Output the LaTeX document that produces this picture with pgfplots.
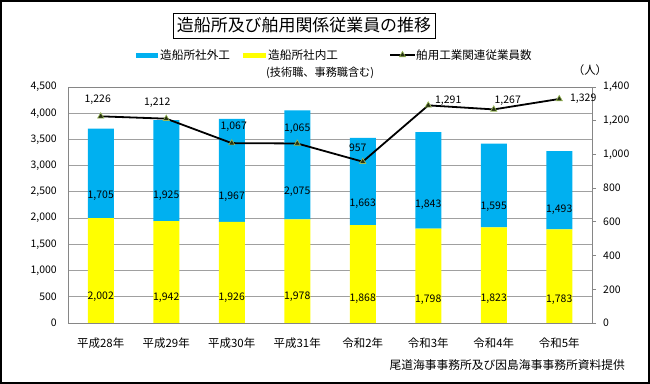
\documentclass[border=0pt]{standalone}
\usepackage{pgfplots}
\pgfplotsset{compat=1.18}
\usepackage{pgfplotstable}
\usepackage{fontspec}
\setmainfont{Noto Sans CJK JP}
\definecolor{barcyan}{RGB}{0,176,240}
\definecolor{baryel}{RGB}{255,255,0}
\definecolor{gridc}{RGB}{160,160,160}
\definecolor{axc}{RGB}{134,134,134}
\definecolor{mkgreen}{RGB}{155,187,89}
\definecolor{mkfill}{RGB}{40,50,20}

\pgfplotstableread{
x in out emp dx dy
0 2002 1705 1226 -3 17
1 1942 1925 1212 -9 16
2 1926 1967 1067 2 16
3 1978 2075 1065 0 15
4 1868 1663 957 -5 14
5 1798 1843 1291 20 5
6 1823 1595 1267 14 9
7 1783 1493 1329 24 0
}\datatable

\pgfplotsset{
  /pgf/number format/.cd, 1000 sep={,}, fixed, precision=0, assume math mode=true,
  /pgfplots/.cd,
}

\newcommand{\numfont}{\fontsize{10.5}{12}\selectfont}

\begin{document}
\begin{tikzpicture}
\useasboundingbox (0bp,0bp) rectangle (650bp,384bp);
\fill[white] (0bp,0bp) rectangle (650bp,384bp);

\begin{axis}[
  at={(68bp,61bp)}, anchor=south west,
  scale only axis, width=524bp, height=236bp,
  xmin=-0.5, xmax=7.5,
  ymin=0, ymax=4500,
  ytick={0,500,...,4500},
  xtick={0,...,7},
  xticklabels={平成28年,平成29年,平成30年,平成31年,令和2年,令和3年,令和4年,令和5年},
  ybar stacked, bar width=26bp,
  ymajorgrids, grid style={gridc, line width=0.8bp},
  axis line style={axc, line width=0.8bp},
  tick style={draw=none},
  major tick length=0pt,
  yticklabel style={font=\numfont, anchor=east, inner sep=0pt, xshift=-11bp},
  xticklabel style={font=\fontsize{11.5}{13}\selectfont, anchor=center, inner sep=0pt, yshift=-20bp},
]
\addplot[fill=baryel, draw=none, nodes near coords, point meta=explicit,
  visualization depends on={\thisrow{in} \as \segv},
  every node near coord/.style={font=\numfont, black, inner sep=0pt, anchor=center, yshift={-0.013111*\segv bp}}]
  table[x=x, y=in, meta=in] {\datatable};
\addplot[fill=barcyan, draw=none, nodes near coords, point meta=explicit,
  visualization depends on={\thisrow{out} \as \segw},
  every node near coord/.style={font=\numfont, black, inner sep=0pt, anchor=center, yshift={-0.013111*\segw bp}}]
  table[x=x, y=out, meta=out] {\datatable};
\end{axis}

\begin{axis}[
  at={(68bp,61bp)}, anchor=south west,
  scale only axis, width=524bp, height=236bp,
  xmin=-0.5, xmax=7.5, ymin=0, ymax=1400,
  axis y line*=right, axis x line=none,
  ytick={0,200,...,1400},
  tick align=outside, major tick length=4bp,
  tick style={axc, line width=0.8bp},
  axis line style={axc, line width=0.8bp},
  yticklabel style={font=\numfont, anchor=west, inner sep=0pt, xshift=7bp},
  clip=false,
]
\addplot[black, line width=1.8bp, mark=triangle*, mark size=3.6bp,
  mark options={fill=mkfill, draw=mkgreen, line width=0.6bp},
  nodes near coords, point meta=explicit,
  visualization depends on={\thisrow{dx} \as \ndx},
  visualization depends on={\thisrow{dy} \as \ndy},
  every node near coord/.style={font=\numfont, black, inner sep=0pt, anchor=center, xshift={\ndx bp}, yshift={\ndy bp}}]
  table[x=x, y=emp, meta=emp] {\datatable};
\end{axis}

\begin{scope}[x=1bp,y=1bp]
% title
\node[draw, line width=0.8bp, minimum width=262bp, minimum height=25bp, inner sep=0pt,
  font=\fontsize{17}{20}\selectfont] at (304,358.5) {造船所及び舶用関係従業員の推移};

% legend
\fill[barcyan] (136,326) rectangle (158,331);
\node[anchor=west, inner sep=0pt, font=\fontsize{11.7}{13}\selectfont] at (160,329) {造船所社外工};
\fill[baryel] (243,326) rectangle (266,331);
\node[anchor=west, inner sep=0pt, font=\fontsize{11.7}{13}\selectfont] at (268,329) {造船所社内工};
\node[anchor=west, inner sep=0pt, font=\fontsize{11.2}{13}\selectfont] at (266,311) {(技術職、事務職含む)};
\draw[black, line width=1.8bp] (390,329) -- (415,329);
\filldraw[fill=mkfill, draw=mkgreen, line width=0.6bp] (402.5,332.6) -- (399.4,327.2) -- (405.6,327.2) -- cycle;
\node[anchor=west, inner sep=0pt, font=\fontsize{11.6}{13}\selectfont] at (416,329) {舶用工業関連従業員数};
\node[inner sep=0pt, font=\fontsize{11.5}{13}\selectfont] at (590,314) {（人）};

% footer
\node[anchor=east, inner sep=0pt, font=\fontsize{11.8}{13}\selectfont] at (625,19) {尾道海事事務所及び因島海事事務所資料提供};

% frame
\draw[line width=1.5bp] (1,1) rectangle (649,383);
\end{scope}
\end{tikzpicture}
\end{document}
